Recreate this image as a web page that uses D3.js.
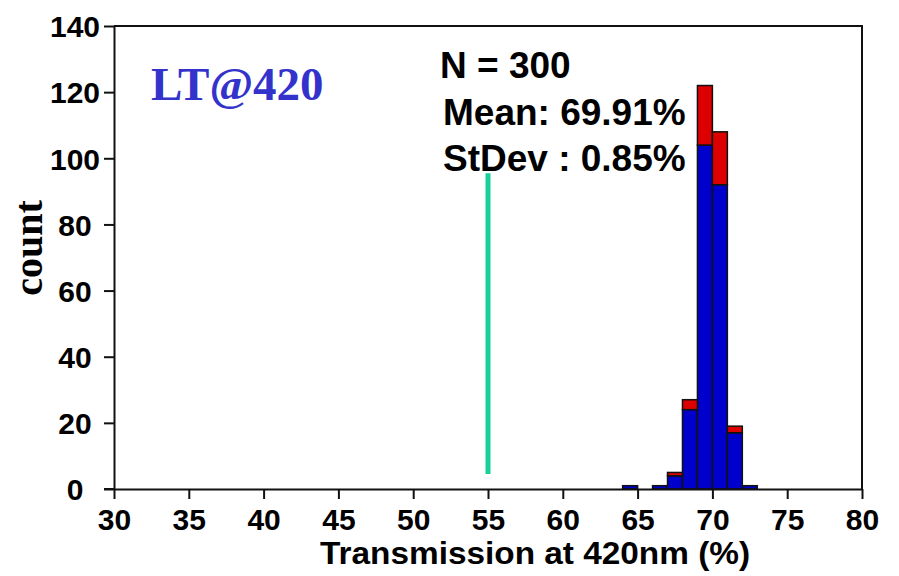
<!DOCTYPE html>
<html>
<head>
<meta charset="utf-8">
<script src="https://cdn.jsdelivr.net/npm/d3@7"></script>
<style>
  html, body { margin: 0; padding: 0; background: #fff; }
  svg { display: block; }
  .tick text { font-family: Arial, "Liberation Sans", sans-serif; font-weight: bold; }
</style>
</head>
<body>
<svg id="chart" width="899" height="576"></svg>
<script>
// Histogram bins (lower edge, width 1%) and stacked counts
const binStarts = [64, 66, 67, 68, 69, 70, 71, 72];
const blueCounts = [1, 1, 4, 24, 104, 92, 17, 1];
const redCounts  = [0, 0, 1, 3, 18, 16, 2, 0];

const xTicks = [30, 35, 40, 45, 50, 55, 60, 65, 70, 75, 80];
const yTicks = [0, 20, 40, 60, 80, 100, 120, 140];

// Specification limit marker
const specX = [55];
const specRange = [4.5, 95.5];

const statLines = ["N = 300", "Mean: 69.91%", "StDev : 0.85%"];

const svg = d3.select("#chart");
const x = d3.scaleLinear().domain([30, 80]).range([114, 862]);
const y = d3.scaleLinear().domain([0, 140]).range([489, 26]);

// Stack blue (lower) and red (upper) series
const rows = binStarts.map((b, i) => ({ bin: b, blue: blueCounts[i], red: redCounts[i] }));
const stacked = d3.stack().keys(["blue", "red"])(rows);
const colors = { blue: "#0000CC", red: "#DD0000" };

svg.append("g").selectAll("g")
  .data(stacked)
  .join("g")
  .attr("fill", d => colors[d.key])
  .selectAll("rect")
  .data(d => d.filter(s => s[1] > s[0]))
  .join("rect")
  .attr("x", d => x(d.data.bin))
  .attr("width", d => x(d.data.bin + 1) - x(d.data.bin))
  .attr("y", d => y(d[1]))
  .attr("height", d => y(d[0]) - y(d[1]))
  .attr("stroke", "#111")
  .attr("stroke-width", 1.5);

// Spec line
svg.append("g").selectAll("line")
  .data(specX)
  .join("line")
  .attr("x1", d => x(d)).attr("x2", d => x(d))
  .attr("y1", y(specRange[0])).attr("y2", y(specRange[1]))
  .attr("stroke", "#19CF9A")
  .attr("stroke-width", 5);

// Frame: top and right edges
svg.append("path")
  .attr("d", `M${x(30)},${y(140)}H${x(80)}V${y(0)}`)
  .attr("fill", "none").attr("stroke", "#111").attr("stroke-width", 2);

// Axes
const xAxis = svg.append("g")
  .attr("transform", `translate(0,${y(0)})`)
  .call(d3.axisBottom(x).tickValues(xTicks).tickSize(10).tickSizeOuter(0).tickPadding(12));
const yAxis = svg.append("g")
  .attr("transform", `translate(${x(30)},0)`)
  .call(d3.axisLeft(y).tickValues(yTicks).tickSize(10).tickSizeOuter(0).tickPadding(6));

[xAxis, yAxis].forEach(g => {
  g.select(".domain").attr("stroke", "#111").attr("stroke-width", 2);
  g.selectAll(".tick line").attr("stroke", "#111").attr("stroke-width", 2);
  g.selectAll(".tick text").attr("fill", "#000").style("font-size", "30px");
});
xAxis.selectAll(".tick text").attr("dy", null).attr("y", 41);
// extend the baseline left of the y axis
svg.append("line")
  .attr("x1", x(30) - 10).attr("x2", x(30))
  .attr("y1", y(0)).attr("y2", y(0))
  .attr("stroke", "#111").attr("stroke-width", 2);
yAxis.selectAll(".tick text")
  .attr("text-anchor", "middle")
  .attr("x", -39)
  .attr("dy", "0.36em");

// Axis titles
svg.append("text")
  .attr("x", 535).attr("y", 564)
  .attr("text-anchor", "middle")
  .attr("textLength", 430)
  .attr("lengthAdjust", "spacingAndGlyphs")
  .style("font-family", "Arial, 'Liberation Sans', sans-serif")
  .style("font-weight", "bold").style("font-size", "31px")
  .text("Transmission at 420nm (%)");

svg.append("text")
  .attr("transform", "translate(42,248) rotate(-90)")
  .attr("text-anchor", "middle")
  .style("font-family", "'Times New Roman', 'Liberation Serif', serif")
  .style("font-weight", "bold").style("font-size", "40px")
  .attr("fill", "#000")
  .text("count");

// Label
svg.append("text")
  .attr("x", 151).attr("y", 100)
  .style("font-family", "'Times New Roman', 'Liberation Serif', serif")
  .style("font-weight", "bold").style("font-size", "47px")
  .attr("fill", "#3333CC")
  .text("LT@420");

// Summary statistics
svg.append("g").selectAll("text")
  .data(statLines)
  .join("text")
  .attr("x", (d, i) => i === 0 ? 440 : 443)
  .attr("y", (d, i) => [78, 125, 171][i])
  .style("font-family", "Arial, 'Liberation Sans', sans-serif")
  .style("font-weight", "bold").style("font-size", "37px")
  .attr("fill", "#000")
  .text(d => d);
</script>
</body>
</html>
